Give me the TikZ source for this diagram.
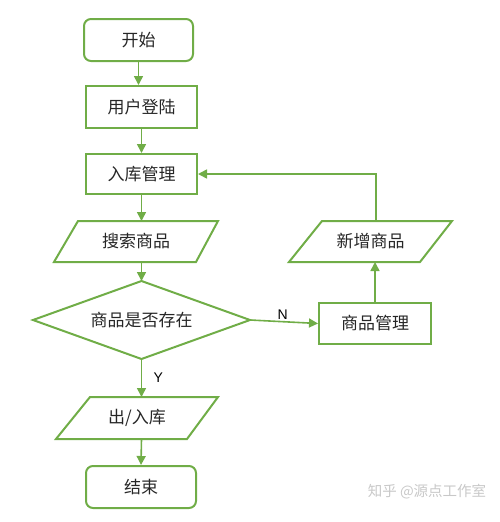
\documentclass[tikz,border=0pt]{standalone}
\usepackage{fontspec}
\usetikzlibrary{arrows.meta}
\newfontfamily\cjk{Noto Sans CJK SC}
\newfontfamily\lat{Liberation Sans}
\definecolor{fg}{HTML}{70AD47}
\definecolor{wm}{HTML}{C8C8C8}
\tikzset{
  box/.style={draw=fg, line width=2pt, minimum width=111pt, minimum height=42pt, inner sep=0pt, font=\cjk\fontsize{17}{19}\selectfont, text=black!85},
  rbox/.style={box, rounded corners=7pt},
  txt/.style={inner sep=0pt, minimum height=41pt, font=\cjk\fontsize{17}{19}\selectfont, text=black!85},
  shp/.style={draw=fg, line width=2pt, line join=miter},
  conn/.style={draw=fg, line width=1.6pt, -{Triangle[length=9pt,width=9pt]}},
  lbl/.style={font=\lat\fontsize{14}{16}\selectfont, text=black},
}
\begin{document}
\begin{tikzpicture}[x=1pt,y=-1pt]
\useasboundingbox (0,0) rectangle (499,522);
% nodes
\node[rbox, minimum width=109pt] (start) at (138.5,40) {开始};
\node[box] (login) at (141.5,107) {用户登陆};
\node[box, minimum height=40pt] (stock) at (141.5,174) {入库管理};
% search parallelogram
\draw[shp] (78,221) -- (218,221) -- (196,262) -- (54,262) -- cycle;
\node[txt] (search) at (136,241.5) {搜索商品};
% diamond
\coordinate (dt) at (141.5,281);
\coordinate (db) at (141.5,359);
\coordinate (dl) at (33,320);
\coordinate (dr) at (250,320);
\draw[shp] (dt) -- (dr) -- (db) -- (dl) -- cycle;
\node[txt] (exist) at (141.5,320) {商品是否存在};
% io parallelogram
\draw[shp] (90,397) -- (218,397) -- (187,439) -- (56,439) -- cycle;
\node[txt] (io) at (137,418) {出/入库};
\node[rbox, minimum width=110pt] (end) at (141,487) {结束};
% right side
\node[box, minimum width=112pt, minimum height=41pt] (mgmt) at (375,323.5) {商品管理};
\draw[shp] (322,221) -- (452,221) -- (420,262) -- (289,262) -- cycle;
\node[txt] (add) at (370.5,241.5) {新增商品};
\coordinate (addtop) at (376,221);
\coordinate (addbot) at (375,262);
\coordinate (corner) at (376,174);
\coordinate (stbot) at (141.5,221);
\coordinate (setop) at (141.5,262);
\coordinate (iotop) at (141.5,397);
\coordinate (iobot) at (141.5,439);
% connectors
\draw[conn] (start.south) -- (start.south |- login.north);
\draw[conn] (login.south) -- (stock.north);
\draw[conn] (stock.south) -- (stbot);
\draw[conn] (setop) -- (dt);
\draw[conn] (db) -- (iotop) node[lbl, pos=0.5, right=8pt] (y) {Y};
\draw[conn] (iobot) -- (end.north);
\draw[conn] (dr) -- (mgmt.west) node[lbl, pos=0.48, above=-2pt] (n) {N};
\draw[conn] (mgmt.north) -- (addbot);
\draw[conn] (addtop) -- (corner) -- (stock.east);
% watermark
\node[font=\cjk\fontsize{14.5}{16}\selectfont, text=wm, inner sep=0pt] (wmk) at (427,492) {知乎 @源点工作室};
\end{tikzpicture}
\end{document}
